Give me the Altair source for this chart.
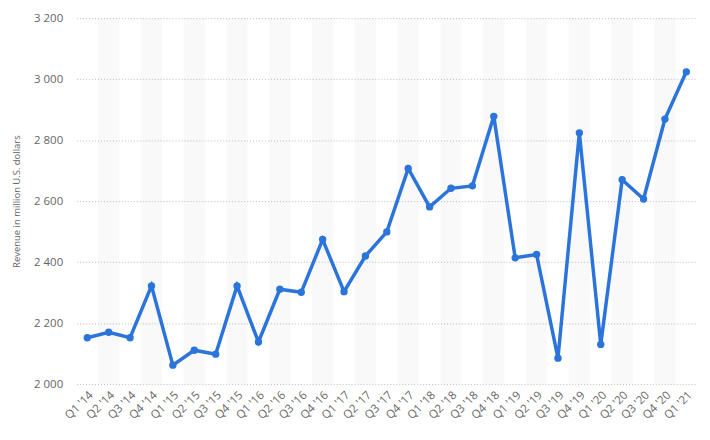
import altair as alt
import pandas as pd

quarters = ["Q1 '14", "Q2 '14", "Q3 '14", "Q4 '14",
            "Q1 '15", "Q2 '15", "Q3 '15", "Q4 '15",
            "Q1 '16", "Q2 '16", "Q3 '16", "Q4 '16",
            "Q1 '17", "Q2 '17", "Q3 '17", "Q4 '17",
            "Q1 '18", "Q2 '18", "Q3 '18", "Q4 '18",
            "Q1 '19", "Q2 '19", "Q3 '19", "Q4 '19",
            "Q1 '20", "Q2 '20", "Q3 '20", "Q4 '20",
            "Q1 '21"]
revenue = [2152, 2170, 2152, 2322,
           2062, 2111, 2098, 2322,
           2138, 2311, 2301, 2474,
           2303, 2420, 2499, 2707,
           2581, 2642, 2650, 2878,
           2414, 2425, 2085, 2824,
           2130, 2670, 2607, 2869,
           3024]
shaded = quarters[1::2]

df = pd.DataFrame({"quarter": quarters, "revenue": revenue})
bands = pd.DataFrame({"quarter": shaded})

W, H = 624, 368
FONT = "Open Sans"

xscale = alt.Scale(type="band", domain=quarters, paddingInner=0, paddingOuter=0, round=False)

xaxis = alt.Axis(title=None, labelAngle=-45, labelAlign="right", labelBaseline="top",
                 labelColor="#666666", labelFontSize=11.5, labelFont=FONT,
                 labelPadding=5, ticks=False, domain=False, grid=False)
yaxis = alt.Axis(title="Revenue in million U.S. dollars", titleColor="#666666",
                 titleFontSize=9.5, titleFont=FONT, titleFontWeight="normal",
                 titlePadding=12,
                 values=[2000, 2200, 2400, 2600, 2800, 3000, 3200],
                 labelExpr="replace(format(datum.value, ','), ',', ' ')",
                 labelColor="#666666", labelFontSize=11.5, labelFont=FONT,
                 labelPadding=14, ticks=False, domain=False,
                 grid=True, gridColor="#bbbbbb", gridDash=[1, 2], gridWidth=1)

rects = alt.Chart(bands).mark_rect(color="#000000", opacity=0.022).encode(
    x=alt.X("quarter:N", scale=xscale, axis=xaxis, sort=quarters),
    y=alt.value(0),
    y2=alt.value(H),
)

line = alt.Chart(df).mark_line(
    color="#2a74db", strokeWidth=3.5,
    point=alt.OverlayMarkDef(color="#2a74db", size=55, filled=True, opacity=1),
).encode(
    x=alt.X("quarter:N", scale=xscale, axis=xaxis, sort=quarters, bandPosition=0.5),
    y=alt.Y("revenue:Q", scale=alt.Scale(domain=[2000, 3200], nice=False, zero=False),
            axis=yaxis),
)

chart = alt.layer(rects, line).properties(
    width=W, height=H,
    autosize=alt.AutoSizeParams(type="none"),
    padding={"left": 69, "top": 9, "right": 5, "bottom": 50},
).configure_view(stroke=None)

chart.save("out.html", embed_options={"renderer": "svg", "actions": False})
